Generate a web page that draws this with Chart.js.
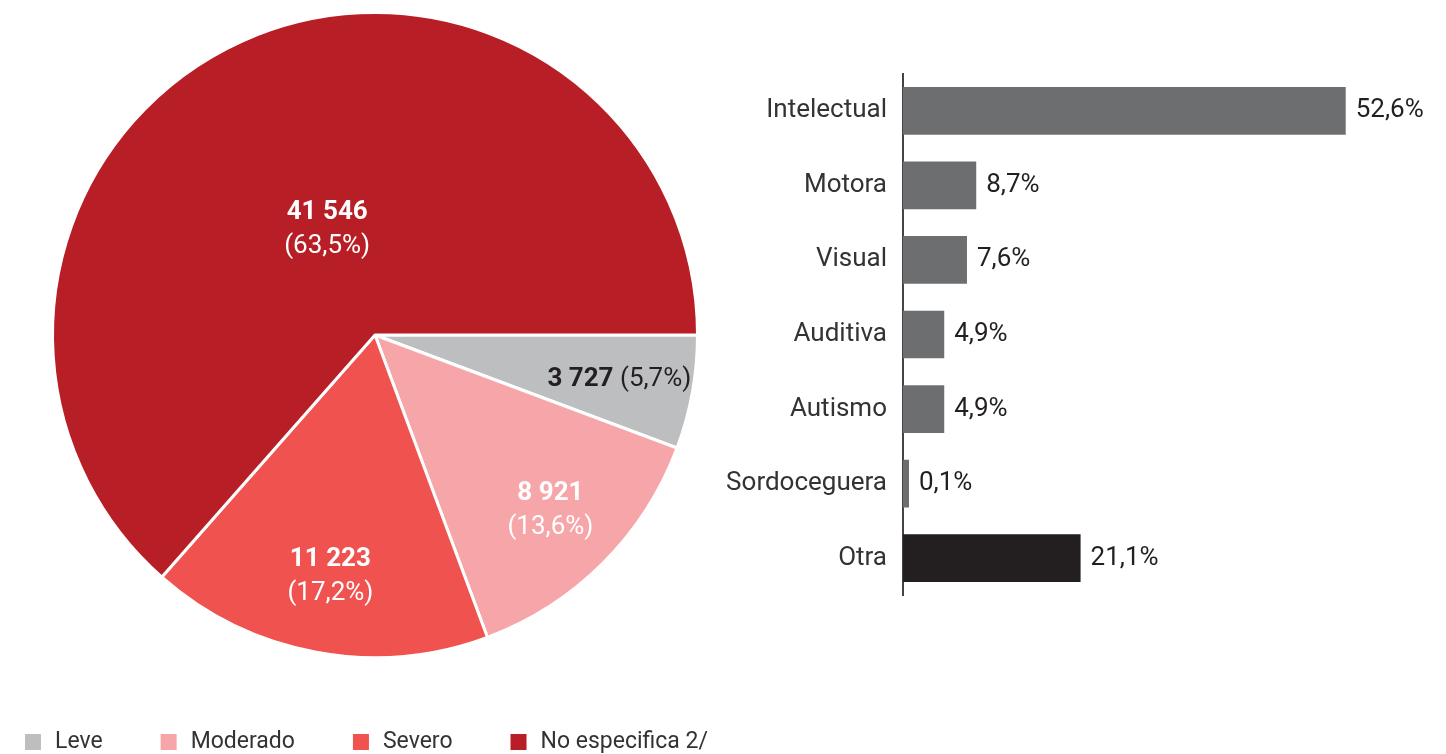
<!DOCTYPE html>
<html lang="es">
<head>
<meta charset="UTF-8">
<title>Discapacidad</title>
<script src="https://cdn.jsdelivr.net/npm/chart.js"></script>
<style>
  html, body { margin: 0; padding: 0; background: #fff; overflow: hidden; }
  #pieBox { position: absolute; left: 0; top: 0; width: 750px; height: 754px; }
  #barBox { position: absolute; left: 700px; top: 42px; width: 746px; height: 585px; }
</style>
</head>
<body>
<div id="pieBox"><canvas id="pieChart"></canvas></div>
<div id="barBox"><canvas id="barChart"></canvas></div>

<script>
// Pie: grado de discapacidad
var gradoLabels = ['Leve', 'Moderado', 'Severo', 'No especifica 2/'];
var gradoValues = [3727, 8921, 11223, 41546];
var gradoColors = ['#bcbec0', '#f6a6a8', '#f0524f', '#b71e25'];

// Bars: tipo de discapacidad (%)
var tipoLabels = ['Intelectual', 'Motora', 'Visual', 'Auditiva', 'Autismo', 'Sordoceguera', 'Otra'];
var tipoValues = [52.6, 8.7, 7.6, 4.9, 4.9, 0.1, 21.1];
var tipoColors = ['#6d6e70', '#6d6e70', '#6d6e70', '#6d6e70', '#6d6e70', '#6d6e70', '#231f20'];

var FONT = 'Roboto, "DejaVu Sans", sans-serif';
var TEXT = '#231f20';

// where each pie label sits, as a share of the radius
var labelRadius = [0.77, 0.77, 0.76, 0.36];

function fmtNum(v) {
    return String(v).replace(/\B(?=(\d{3})+(?!\d))/g, ' ');
}
function fmtPct(v) {
    return v.toFixed(1).replace('.', ',') + '%';
}

var pieLabels = {
    id: 'pieLabels',
    afterDatasetsDraw: function(chart) {
        var ctx = chart.ctx;
        var data = chart.data.datasets[0].data;
        var total = data.reduce(function(a, b) { return a + b; }, 0);
        var meta = chart.getDatasetMeta(0);
        ctx.save();
        ctx.textBaseline = 'middle';
        meta.data.forEach(function(arc, i) {
            var mid = (arc.startAngle + arc.endAngle) / 2;
            var r = arc.outerRadius * labelRadius[i];
            var x = arc.x + Math.cos(mid) * r;
            var y = arc.y + Math.sin(mid) * r;
            var num = fmtNum(data[i]);
            var pct = '(' + fmtPct(data[i] / total * 100) + ')';
            if (i === 0) {
                // small slice: one dark line
                ctx.font = 'bold 26px ' + FONT;
                var w1 = ctx.measureText(num + ' ').width;
                ctx.font = '26px ' + FONT;
                var w2 = ctx.measureText(pct).width;
                var sx = x - (w1 + w2) / 2;
                ctx.fillStyle = TEXT;
                ctx.textAlign = 'left';
                ctx.font = 'bold 26px ' + FONT;
                ctx.fillText(num, sx, y);
                ctx.font = '26px ' + FONT;
                ctx.fillText(pct, sx + w1, y);
            } else {
                ctx.fillStyle = '#ffffff';
                ctx.textAlign = 'center';
                ctx.font = 'bold 26px ' + FONT;
                ctx.fillText(num, x, y - 17);
                ctx.font = '26px ' + FONT;
                ctx.fillText(pct, x, y + 17);
            }
        });
        ctx.restore();
    }
};

// legend row along the bottom, built from the chart's own labels/colours
var legendRow = {
    id: 'legendRow',
    afterDraw: function(chart) {
        var ctx = chart.ctx;
        var labels = chart.data.labels;
        var colors = chart.data.datasets[0].backgroundColor;
        var x = 25, y = 742;
        ctx.save();
        ctx.font = '23px ' + FONT;
        ctx.textBaseline = 'middle';
        ctx.textAlign = 'left';
        labels.forEach(function(lab, i) {
            ctx.fillStyle = colors[i];
            ctx.fillRect(x, y - 8, 16, 16);
            ctx.fillStyle = '#333333';
            ctx.fillText(lab, x + 30, y);
            x += 30 + ctx.measureText(lab).width + 58;
        });
        ctx.restore();
    }
};

new Chart(document.getElementById('pieChart'), {
    type: 'pie',
    data: {
        labels: gradoLabels,
        datasets: [{
            data: gradoValues,
            backgroundColor: gradoColors,
            borderColor: '#ffffff',
            borderWidth: 3
        }]
    },
    options: {
        responsive: true,
        maintainAspectRatio: false,
        animation: false,
        rotation: 90,
        layout: { padding: { left: 51, right: 51, top: 11, bottom: 95 } },
        plugins: {
            legend: { display: false },
            tooltip: { enabled: false }
        }
    },
    plugins: [pieLabels, legendRow]
});

var barValueLabels = {
    id: 'barValueLabels',
    afterDatasetsDraw: function(chart) {
        var ctx = chart.ctx;
        var meta = chart.getDatasetMeta(0);
        var data = chart.data.datasets[0].data;
        ctx.save();
        ctx.font = '26px ' + FONT;
        ctx.fillStyle = TEXT;
        ctx.textAlign = 'left';
        ctx.textBaseline = 'middle';
        meta.data.forEach(function(bar, i) {
            ctx.fillText(fmtPct(data[i]), bar.x + 10, bar.y);
        });
        ctx.restore();
    }
};

new Chart(document.getElementById('barChart'), {
    type: 'bar',
    data: {
        labels: tipoLabels,
        datasets: [{
            data: tipoValues,
            backgroundColor: tipoColors,
            categoryPercentage: 1,
            barPercentage: 0.64,
            minBarLength: 6
        }]
    },
    options: {
        indexAxis: 'y',
        responsive: true,
        maintainAspectRatio: false,
        animation: false,
        layout: { padding: { top: 15, bottom: 12, right: 38 } },
        scales: {
            x: {
                display: false,
                min: 0,
                max: 60
            },
            y: {
                afterFit: function(scale) { scale.width = 203; },
                grid: { display: false, drawTicks: false },
                border: { display: true, color: '#444444', width: 2 },
                ticks: {
                    color: '#333333',
                    padding: 16,
                    font: { family: FONT, size: 26 }
                }
            }
        },
        plugins: {
            legend: { display: false },
            tooltip: { enabled: false }
        }
    },
    plugins: [barValueLabels]
});
</script>
</body>
</html>
